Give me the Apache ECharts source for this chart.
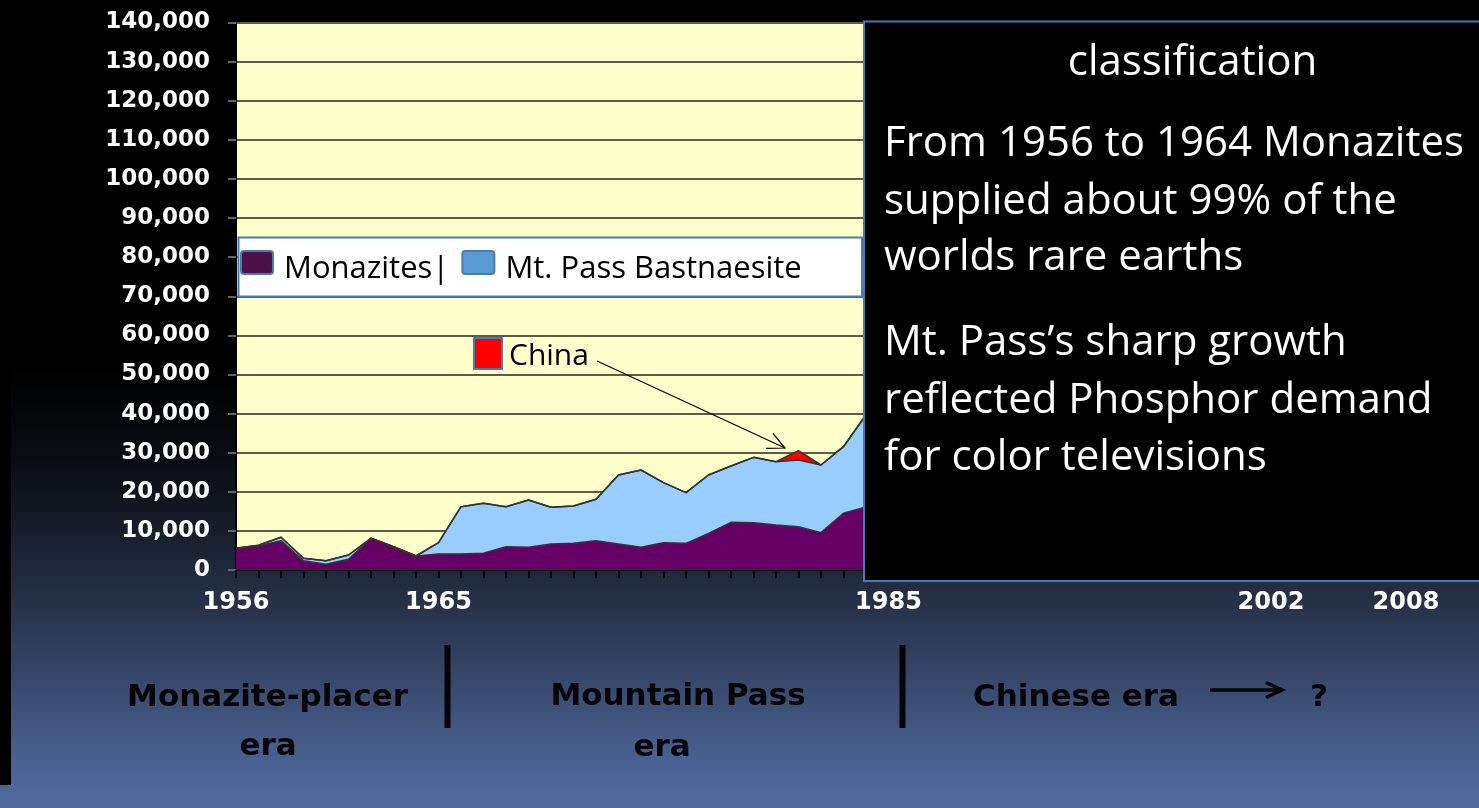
<!DOCTYPE html>
<html>
<head>
<meta charset="utf-8">
<title>Rare earth supply by source</title>
<script src="https://cdn.jsdelivr.net/npm/echarts@6.0.0/dist/echarts.min.js"></script>
<style>
  html, body { margin: 0; padding: 0; background: #000; }
  #chart { width: 1479px; height: 808px; }
</style>
</head>
<body>
<div id="chart"></div>
<script>
// Years with production values (tonnes of rare-earth oxide)
const years = [1956, 1957, 1958, 1959, 1960, 1961, 1962, 1963, 1964, 1965,
               1966, 1967, 1968, 1969, 1970, 1971, 1972, 1973, 1974, 1975,
               1976, 1977, 1978, 1979, 1980, 1981, 1982, 1983, 1984];

const monazites = [5550, 6140, 7500, 2380, 1450, 2730, 8100, 5960, 3580, 4090,
                   4090, 4260, 5960, 5800, 6650, 6820, 7500, 6650, 5800, 6990,
                   6820, 9380, 12190, 12100, 11510, 11080, 9550, 14500, 16100];

const bastnaesite = [0, 200, 860, 610, 930, 1110, 0, 0, 0, 2890,
                     12100, 12790, 10230, 12100, 9380, 9540, 10570, 17640, 19770, 15340,
                     12950, 14910, 14400, 16710, 16190, 17050, 17300, 17030, 23600];

const china = [0, 0, 0, 0, 0, 0, 0, 0, 0, 0,
               0, 0, 0, 0, 0, 0, 0, 0, 0, 0,
               0, 0, 0, 0, 0, 2370, 0, 0, 0];

// Full time axis of the slide
const axisYears = [1956, 1957, 1958, 1959, 1960, 1961, 1962, 1963, 1964, 1965,
                   1966, 1967, 1968, 1969, 1970, 1971, 1972, 1973, 1974, 1975,
                   1976, 1977, 1978, 1979, 1980, 1981, 1982, 1983, 1984, 1985,
                   1986, 1987, 1988, 1989, 1990, 1991, 1992, 1993, 1994, 1995,
                   1996, 1997, 1998, 1999, 2000, 2001, 2002, 2003, 2004, 2005,
                   2006, 2007, 2008, 2009, 2010];
const yearLabels = [1956, 1965, 1985, 2002, 2008];

const yMin = 0, yMax = 140000, yStep = 10000;

const seriesNames = ['Monazites', 'Mt. Pass Bastnaesite', 'China'];

const noteTitle = 'classification';
const noteLines = [
  'From 1956 to 1964 Monazites',
  'supplied about 99% of the',
  'worlds rare earths',
  'Mt. Pass\u2019s sharp growth',
  'reflected Phosphor demand',
  'for color televisions'
];

const chart = echarts.init(document.getElementById('chart'), null, { renderer: 'canvas' });

const AXIS_FONT = 'DejaVu Sans';
const NOTE_FONT = 'Open Sans';
const EDGE = { color: '#333333', width: 1.5 };
const BORDER_BLUE = '#4a7ab0';

// Key swatches sit a little above the text centre line: the trailing
// move-to extends the symbol box below the visible swatch.
const SWATCH_ROUND = 'path://M3,0 H29 Q32,0 32,3 V20 Q32,23 29,23 H3 Q0,23 0,20 V3 Q0,0 3,0 Z M0,37';
const SWATCH_SQUARE = 'path://M0,0 H28 V31 H0 Z M0,37';

function areaSeries(name, values, fill) {
  return {
    name: name,
    type: 'line',
    stack: 'supply',
    data: values,
    symbol: 'none',
    showSymbol: false,
    lineStyle: EDGE,
    itemStyle: { color: fill },
    areaStyle: { color: fill, opacity: 1 },
    emphasis: { disabled: true },
    silent: true
  };
}

// Annotation arrow from the "China" key to the first Chinese output
function arrowShapes(x1, y1, x2, y2, head, spread) {
  const a = Math.atan2(y2 - y1, x2 - x1);
  const p1 = [x2 - head * Math.cos(a - spread), y2 - head * Math.sin(a - spread)];
  const p2 = [x2 - head * Math.cos(a + spread), y2 - head * Math.sin(a + spread)];
  return [
    { type: 'line', shape: { x1: x1, y1: y1, x2: x2, y2: y2 }, style: { stroke: '#000', lineWidth: 1.2 }, z: 6, silent: true },
    { type: 'polyline', shape: { points: [p1, [x2, y2], p2] }, style: { stroke: '#000', lineWidth: 1.2, fill: null }, z: 6, silent: true }
  ];
}

function eraText(text, x, y, align) {
  return {
    type: 'text', z: 5, silent: true,
    style: {
      text: text, x: x, y: y,
      align: align, textAlign: align,
      verticalAlign: 'middle', textVerticalAlign: 'middle',
      font: 'bold 31px "' + AXIS_FONT + '"',
      fill: '#050508'
    }
  };
}

function noteText(text, x, y, align) {
  return {
    type: 'text', z: 21, silent: true,
    style: {
      text: text, x: x, y: y,
      align: align, textAlign: align,
      verticalAlign: 'middle', textVerticalAlign: 'middle',
      font: '42px "' + NOTE_FONT + '"',
      fill: '#ffffff'
    }
  };
}

const noteY = [144, 202.5, 258.5, 343.5, 401, 458.5];

const graphics = [
  // slide background
  {
    type: 'rect', z: -100, silent: true,
    shape: { x: 0, y: 0, width: 1479, height: 808 },
    style: {
      fill: new echarts.graphic.LinearGradient(0, 0, 0, 1, [
        { offset: 0, color: '#000000' },
        { offset: 0.45, color: '#000000' },
        { offset: 0.55, color: '#080a10' },
        { offset: 0.62, color: '#11161f' },
        { offset: 0.7, color: '#1f2839' },
        { offset: 0.77, color: '#2b3650' },
        { offset: 0.95, color: '#4b6394' },
        { offset: 1, color: '#536b9c' }
      ])
    }
  },
  { type: 'rect', z: -99, silent: true, shape: { x: 0, y: 0, width: 11, height: 785 }, style: { fill: '#000' } },
  // key panel
  {
    type: 'rect', z: 3, silent: true,
    shape: { x: 238.5, y: 237.5, width: 623.5, height: 59 },
    style: { fill: '#ffffff', stroke: BORDER_BLUE, lineWidth: 2 }
  },
  // era captions under the time axis
  eraText('Monazite-placer', 267.5, 698, 'center'),
  eraText('era', 268, 747, 'center'),
  eraText('Mountain Pass', 678, 697, 'center'),
  eraText('era', 662, 748, 'center'),
  eraText('Chinese era', 973, 698, 'left'),
  eraText('?', 1310, 698, 'left'),
  { type: 'rect', z: 5, silent: true, shape: { x: 444.5, y: 645, width: 6, height: 83 }, style: { fill: '#050508' } },
  { type: 'rect', z: 5, silent: true, shape: { x: 899.5, y: 645, width: 6, height: 83 }, style: { fill: '#050508' } },
  { type: 'line', z: 5, silent: true, shape: { x1: 1210, y1: 690, x2: 1280, y2: 690 }, style: { stroke: '#050508', lineWidth: 3.5 } },
  { type: 'polyline', z: 5, silent: true, shape: { points: [[1266, 682.5], [1282, 690], [1266, 697.5]] }, style: { stroke: '#050508', lineWidth: 3.5, fill: null } },
  // commentary panel
  {
    type: 'rect', z: 20, silent: true,
    shape: { x: 864, y: 21.5, width: 620, height: 559.5 },
    style: { fill: '#000000', stroke: BORDER_BLUE, lineWidth: 2 }
  },
  noteText(noteTitle, 1192.5, 63, 'center')
].concat(noteLines.map((t, i) => noteText(t, 884, noteY[i], 'left')))
 .concat(arrowShapes(597, 361, 785, 448, 19, 0.45));

const option = {
  animation: false,
  backgroundColor: '#000',
  tooltip: { show: false },
  grid: {
    left: 236, top: 22.5, right: 28, bottom: 238,
    show: true, backgroundColor: '#FFFFCC', borderWidth: 0,
    containLabel: false
  },
  xAxis: {
    type: 'category',
    data: axisYears.map(String),
    boundaryGap: false,
    axisLine: { show: true, lineStyle: { color: '#000', width: 2 } },
    axisTick: { show: true, interval: 0, length: 8, lineStyle: { color: '#000', width: 2 } },
    axisLabel: {
      interval: (idx, val) => yearLabels.includes(Number(val)),
      color: '#ffffff', fontFamily: AXIS_FONT, fontWeight: 'bold', fontSize: 24, margin: 21
    },
    splitLine: { show: false }
  },
  yAxis: {
    type: 'value',
    min: yMin, max: yMax, interval: yStep,
    axisLine: { show: true, lineStyle: { color: '#000', width: 2 } },
    axisTick: { show: true, length: 8, lineStyle: { color: '#666', width: 2 } },
    axisLabel: {
      color: '#ffffff', fontFamily: AXIS_FONT, fontWeight: 'bold', fontSize: 23, margin: 26,
      formatter: v => Number(v).toLocaleString('en-US')
    },
    splitLine: { show: true, lineStyle: { color: '#5c5c48', width: 2 } }
  },
  legend: [
    {
      data: [
        { name: seriesNames[0], icon: SWATCH_ROUND, itemStyle: { color: '#4e1049', borderColor: BORDER_BLUE, borderWidth: 2 } },
        { name: seriesNames[1], icon: SWATCH_ROUND, itemStyle: { color: '#5b9bd5', borderColor: BORDER_BLUE, borderWidth: 2 } }
      ],
      left: 240, top: 250, orient: 'horizontal',
      itemWidth: 32, itemHeight: 37, itemGap: 12, padding: 0,
      selectedMode: false, z: 4,
      formatter: n => (n === seriesNames[0] ? n + '|' : n),
      textStyle: { fontFamily: NOTE_FONT, fontSize: 31, color: '#000', lineHeight: 36, padding: [0, 0, 0, 6] }
    },
    {
      data: [
        { name: seriesNames[2], icon: SWATCH_SQUARE, itemStyle: { color: '#ff0000', borderColor: BORDER_BLUE, borderWidth: 2 } }
      ],
      left: 473, top: 337,
      itemWidth: 28, itemHeight: 37, padding: 0,
      selectedMode: false, z: 4,
      textStyle: { fontFamily: NOTE_FONT, fontSize: 30, color: '#000', lineHeight: 34, padding: [0, 0, 0, 2] }
    }
  ],
  series: [
    areaSeries(seriesNames[0], monazites, '#660066'),
    areaSeries(seriesNames[1], bastnaesite, '#99CCFF'),
    areaSeries(seriesNames[2], china, '#FF0000')
  ],
  graphic: { elements: graphics }
};

chart.setOption(option);
</script>
</body>
</html>
